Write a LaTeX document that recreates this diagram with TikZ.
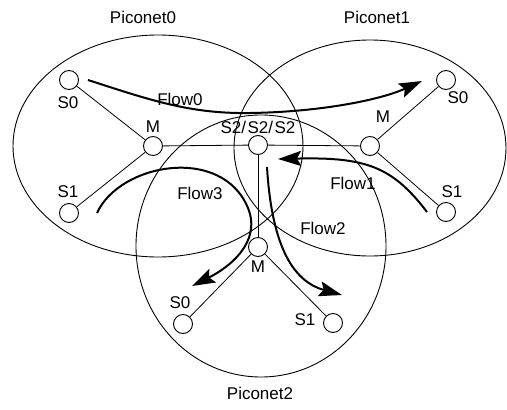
\documentclass[tikz,border=0pt]{standalone}
\usepackage{fontspec}
\setmainfont{Liberation Sans}
\usetikzlibrary{arrows.meta}
\begin{document}
\begin{tikzpicture}[x=1pt,y=-1pt,
  dev/.style={circle,draw,line width=0.9pt,minimum size=19pt,inner sep=0pt,fill=white},
  lab/.style={font=\fontsize{17}{19}\selectfont,inner sep=0pt},
  link/.style={line width=0.8pt},
  net/.style={line width=0.9pt},
  flow/.style={line width=2pt,-{Stealth[length=23pt,width=15pt,inset=4pt]}}]
\useasboundingbox (0,0) rectangle (507,410);
% piconets
\draw[net] (158,146) ellipse [x radius=145, y radius=111];
\draw[net] (370,148) ellipse [x radius=136, y radius=108];
\draw[net] (261,246) ellipse [x radius=125, y radius=131];
% devices
\node[dev] (p0s0) at (69,80) {};
\node[dev] (p0m) at (153,146) {};
\node[dev] (p0s1) at (69,213) {};
\node[dev] (s2) at (258,145) {};
\node[dev] (p1m) at (370,146) {};
\node[dev] (p1s0) at (446,80) {};
\node[dev] (p1s1) at (446,212) {};
\node[dev] (p2m) at (258,247) {};
\node[dev] (p2s0) at (183,324) {};
\node[dev] (p2s1) at (333,323) {};
% links
\draw[link] (p0s0) -- (p0m);
\draw[link] (p0m) -- (p0s1);
\draw[link] (p0m) -- (s2);
\draw[link] (s2) -- (p1m);
\draw[link] (p1m) -- (p1s0);
\draw[link] (p1m) -- (p1s1);
\draw[link] (s2) -- (p2m);
\draw[link] (p2m) -- (p2s0);
\draw[link] (p2m) -- (p2s1);
% labels
\node[lab] (t0) at (143,17) {Piconet0};
\node[lab] (t1) at (377,17) {Piconet1};
\node[lab] (t2) at (260,393) {Piconet2};
\node[lab] (l0s0) at (68,103) {S0};
\node[lab] (l0m) at (153,127) {M};
\node[lab] (l0s1) at (68,192) {S1};
\node[lab] (ls2) at (258,127) {S2/\kern1.5pt S2/\kern1.5pt S2};
\node[lab] (l1m) at (383,117) {M};
\node[lab] (l1s0) at (458,98) {S0};
\node[lab] (l1s1) at (452,192) {S1};
\node[lab] (l2m) at (258,267) {M};
\node[lab] (l2s0) at (180,303) {S0};
\node[lab] (l2s1) at (305,320) {S1};
\node[lab] (f0) at (180,99) {Flow0};
\node[lab] (f1) at (353,183) {Flow1};
\node[lab] (f2) at (323,228) {Flow2};
\node[lab] (f3) at (200,193) {Flow3};
% flows
\coordinate (a0) at (88,80);
\coordinate (b0) at (422,81);
\draw[flow] (a0) .. controls (150,100) and (190,114) .. (250,113)
  .. controls (320,112) and (380,100) .. (b0);
\coordinate (a1) at (427,212);
\coordinate (b1) at (278,159);
\draw[flow] (a1) .. controls (392,166) and (365,157) .. (b1);
\coordinate (a2) at (267,167);
\coordinate (b2) at (342,295);
\draw[flow] (a2) .. controls (272,250) and (295,282) .. (b2);
\coordinate (a3) at (97,213);
\coordinate (b3) at (192,286);
\draw[flow] (a3) .. controls (120,163) and (222,145) .. (248,208)
  .. controls (262,243) and (228,268) .. (b3);
\end{tikzpicture}
\end{document}
